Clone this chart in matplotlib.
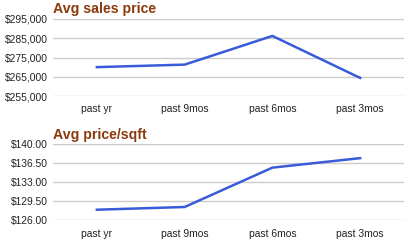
import matplotlib.pyplot as plt
from matplotlib.ticker import FuncFormatter

plt.rcParams['font.family'] = ['Liberation Sans', 'DejaVu Sans']

periods = ['past yr', 'past 9mos', 'past 6mos', 'past 3mos']
sales_price = [270000, 271300, 286200, 264400]
price_sqft = [127.95, 128.45, 135.7, 137.45]

price_ticks = [255000, 265000, 275000, 285000, 295000]
sqft_ticks = [126.0, 129.5, 133.0, 136.5, 140.0]

W, H = 416, 246
fig = plt.figure(figsize=(W / 100, H / 100), dpi=100)


def make_axes(x0, y0, x1, y1):
    # pixel box (top-left origin) -> figure fraction
    return fig.add_axes([x0 / W, 1 - y1 / H, (x1 - x0) / W, (y1 - y0) / H])


def draw_panel(ax, values, ticks, fmt, title):
    x = list(range(len(periods)))
    ax.plot(x, values, color='#3a5bd9', lw=1.8, solid_joinstyle='miter')
    ax.set_xlim(-0.5, len(periods) - 0.5)
    ax.set_ylim(ticks[0], ticks[-1])
    ax.set_yticks(ticks)
    ax.yaxis.set_major_formatter(FuncFormatter(fmt))
    ax.set_xticks(x)
    ax.set_xticklabels(periods)
    ax.grid(axis='y', color='#cccccc', lw=1)
    ax.set_axisbelow(True)
    for s in ax.spines.values():
        s.set_visible(False)
    ax.tick_params(length=0, labelsize=7.4, colors='#222222')
    ax.tick_params(axis='x', pad=6)
    ax.tick_params(axis='y', pad=3.6)
    ax.set_title(title, loc='left', fontsize=10.2, fontweight='bold',
                 color='#8b3a0e', pad=4)


ax1 = make_axes(53, 19, 404, 96)
draw_panel(ax1, sales_price, price_ticks, lambda v, p: f'${v:,.0f}', 'Avg sales price')

ax2 = make_axes(53, 144.3, 404, 220.3)
draw_panel(ax2, price_sqft, sqft_ticks, lambda v, p: f'${v:.2f}', 'Avg price/sqft')

fig.savefig('out.png', dpi=100)
